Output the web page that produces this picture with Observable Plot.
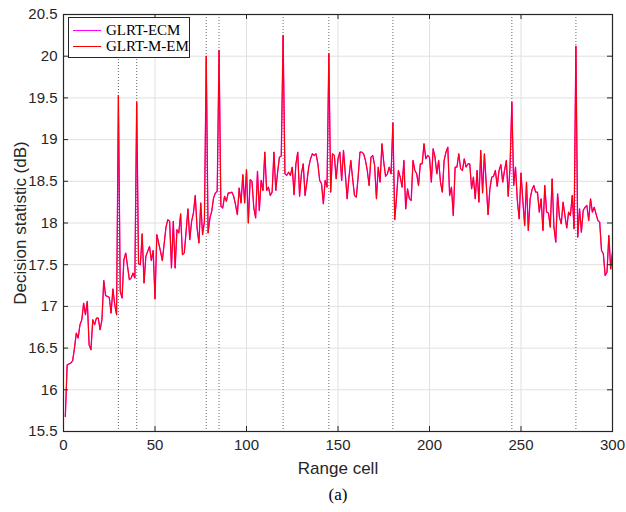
<!DOCTYPE html>
<html>
<head>
<meta charset="utf-8">
<script src="https://cdn.jsdelivr.net/npm/d3@7"></script>
<script src="https://cdn.jsdelivr.net/npm/@observablehq/plot@0.6"></script>
<style>
  html, body { margin: 0; padding: 0; background: #fff; }
  #wrap { position: relative; width: 626px; height: 512px; }
  #legend { position: absolute; left: 68px; top: 17px; width: 122px; height: 41px; border: 1px solid #262626; background: #fff;
            font-family: "Liberation Serif", "Times New Roman", serif; font-size: 15px; color: #000; box-sizing: border-box; }
  .row { position: absolute; left: 0; height: 16px; display: flex; align-items: center; white-space: nowrap; }
  .sw { width: 28px; margin-left: 4px; margin-right: 5px; border-top: 1px solid; }
</style>
</head>
<body>
<div id="wrap"></div>
<script>
// ---- data ----
const seriesNames = ["GLRT-ECM", "GLRT-M-EM"];
const seriesColors = ["#ff00ff", "#ff0000"];
const targetCells = [30, 40, 78, 85, 120, 145, 180, 245, 280];
const xTicks = [0, 50, 100, 150, 200, 250, 300];
const yTicks = [15.5, 16, 16.5, 17, 17.5, 18, 18.5, 19, 19.5, 20, 20.5];
const rangeCells = d3.range(1, 301);
const glrtMEM = [
15.68,16.30,16.31,16.32,16.35,16.50,16.68,16.62,16.78,16.84,
17.04,16.90,17.06,16.54,16.48,16.84,16.78,16.86,16.86,16.72,
16.84,17.31,17.13,17.12,17.11,16.92,17.21,17.02,16.90,19.53,
17.18,17.10,17.56,17.64,17.48,17.32,17.34,17.40,17.34,19.45,
17.51,17.50,17.87,17.28,17.60,17.66,17.72,17.55,17.67,17.09,
17.86,17.76,17.66,17.55,17.75,17.95,18.04,18.02,17.46,18.02,
17.46,17.92,17.88,18.11,17.62,17.64,17.90,18.17,17.80,18.02,
18.12,18.33,17.94,17.76,18.24,17.86,18.02,20.00,17.88,18.06,
18.14,18.30,18.36,18.38,20.07,18.20,18.18,18.32,18.26,18.36,
18.36,18.37,18.32,18.22,18.10,18.42,18.24,18.58,18.24,18.64,
18.00,18.52,18.50,18.18,18.06,18.62,18.15,18.51,18.39,18.85,
18.39,18.43,18.33,18.37,18.85,18.39,18.61,18.79,18.80,20.25,
18.59,18.57,18.61,18.57,18.67,18.34,18.71,18.85,18.32,18.59,
18.71,18.33,18.49,18.67,18.77,18.83,18.81,18.83,18.71,18.51,
18.47,18.23,18.51,18.43,20.03,18.37,18.83,18.81,18.53,18.77,
18.85,18.51,18.87,18.59,18.29,18.55,18.75,18.53,18.33,18.31,
18.55,18.85,18.85,18.83,18.75,18.63,18.45,18.79,18.81,18.69,
18.29,18.67,18.49,18.95,18.73,18.56,18.59,18.67,18.59,19.20,
18.04,18.31,18.63,18.55,18.43,18.75,18.17,18.41,18.29,18.27,
18.75,18.63,18.59,18.45,18.71,18.71,18.95,18.77,18.81,18.79,
18.49,18.89,18.79,18.59,18.75,18.49,18.37,18.75,18.85,18.91,
18.33,18.43,18.09,18.67,18.67,18.83,18.65,18.63,18.77,18.67,
18.71,18.71,18.41,18.55,18.29,18.63,18.25,18.87,18.36,18.83,
18.47,18.10,18.41,18.55,18.56,18.63,18.44,18.63,18.70,18.49,
18.63,18.75,18.32,18.67,19.45,18.45,18.67,18.27,18.05,18.60,
18.27,17.97,18.49,17.91,18.29,18.40,18.45,18.37,18.37,18.13,
18.29,17.91,18.45,18.13,18.12,17.95,18.53,17.95,17.77,18.35,
18.07,17.99,18.25,18.09,17.94,18.13,18.09,18.33,17.93,20.12,
17.83,18.17,17.89,18.15,18.19,18.21,18.03,18.29,18.13,18.19,
18.11,18.03,18.01,17.67,17.63,17.37,17.41,17.85,17.45,17.65
];
const glrtECM = [
15.68,16.30,16.31,16.32,16.35,16.50,16.68,16.62,16.78,16.84,
17.04,16.90,17.06,16.54,16.48,16.84,16.78,16.86,16.86,16.72,
16.84,17.31,17.13,17.12,17.11,16.92,17.21,17.02,16.90,19.53,
17.18,17.10,17.56,17.64,17.48,17.32,17.34,17.40,17.34,19.45,
17.51,17.50,17.87,17.28,17.60,17.66,17.72,17.55,17.67,17.09,
17.86,17.76,17.66,17.55,17.75,17.95,18.04,18.02,17.46,18.02,
17.46,17.92,17.88,18.11,17.62,17.64,17.90,18.17,17.80,18.02,
18.12,18.33,17.94,17.76,18.24,17.86,18.02,20.00,17.88,18.06,
18.14,18.30,18.36,18.38,20.07,18.20,18.18,18.32,18.26,18.36,
18.36,18.37,18.32,18.22,18.10,18.42,18.24,18.58,18.24,18.64,
18.00,18.52,18.50,18.18,18.06,18.62,18.15,18.51,18.39,18.85,
18.39,18.43,18.33,18.37,18.85,18.39,18.61,18.79,18.80,20.25,
18.59,18.57,18.61,18.57,18.67,18.34,18.71,18.85,18.32,18.59,
18.71,18.33,18.49,18.67,18.77,18.83,18.81,18.83,18.71,18.51,
18.47,18.23,18.51,18.43,20.03,18.37,18.83,18.81,18.53,18.77,
18.85,18.51,18.87,18.59,18.29,18.55,18.75,18.53,18.33,18.31,
18.55,18.85,18.85,18.83,18.75,18.63,18.45,18.79,18.81,18.69,
18.29,18.67,18.49,18.95,18.73,18.56,18.59,18.67,18.59,19.20,
18.04,18.31,18.63,18.55,18.43,18.75,18.17,18.41,18.29,18.27,
18.75,18.63,18.59,18.45,18.71,18.71,18.95,18.77,18.81,18.79,
18.49,18.89,18.79,18.59,18.75,18.49,18.37,18.75,18.85,18.91,
18.33,18.43,18.09,18.67,18.67,18.83,18.65,18.63,18.77,18.67,
18.71,18.71,18.41,18.55,18.29,18.63,18.25,18.87,18.36,18.83,
18.47,18.10,18.41,18.55,18.56,18.63,18.44,18.63,18.70,18.49,
18.63,18.75,18.32,18.67,19.45,18.45,18.67,18.27,18.05,18.60,
18.27,17.97,18.49,17.91,18.29,18.40,18.45,18.37,18.37,18.13,
18.29,17.91,18.45,18.13,18.12,17.95,18.53,17.95,17.77,18.35,
18.07,17.99,18.25,18.09,17.94,18.13,18.09,18.33,17.93,20.12,
17.83,18.17,17.89,18.15,18.19,18.21,18.03,18.29,18.13,18.19,
18.11,18.03,18.01,17.67,17.63,17.37,17.41,17.85,17.45,17.65
];

// ---- chart ----
const W = 626, H = 512, mL = 63, mR = 14, mT = 14, mB = 81;
const plotW = W - mL - mR, plotH = H - mT - mB;
const tickLen = 5;
const axisColor = "#262626";
const ecmRows = rangeCells.map((c, i) => ({cell: c, v: glrtECM[i]}));
const memRows = rangeCells.map((c, i) => ({cell: c, v: glrtMEM[i]}));
const innerX = xTicks.slice(1, -1), innerY = yTicks.slice(1, -1);
const sans = "'Liberation Sans', Arial, Helvetica, sans-serif";

const chart = Plot.plot({
  width: W, height: H,
  marginLeft: mL, marginRight: mR, marginTop: mT, marginBottom: mB,
  style: {fontFamily: sans, fontSize: "15px", background: "#fff", color: axisColor, overflow: "visible"},
  x: {domain: [0, 300], ticks: xTicks},
  y: {domain: [15.5, 20.5], ticks: yTicks},
  marks: [
    Plot.gridX(xTicks, {stroke: "#e0e0e0", strokeOpacity: 1, strokeWidth: 1}),
    Plot.gridY(yTicks, {stroke: "#e0e0e0", strokeOpacity: 1, strokeWidth: 1}),
    Plot.ruleX(targetCells, {x: d => d, stroke: "#666", strokeWidth: 1, strokeDasharray: "1,2"}),
    Plot.lineY(ecmRows, {x: "cell", y: "v", stroke: seriesColors[0], strokeWidth: 1.3}),
    Plot.lineY(memRows, {x: "cell", y: "v", stroke: seriesColors[1], strokeWidth: 1}),
    Plot.tickX(innerX, {x: d => d, insetTop: plotH - tickLen, stroke: axisColor}),
    Plot.tickX(innerX, {x: d => d, insetBottom: plotH - tickLen, stroke: axisColor}),
    Plot.tickY(innerY, {y: d => d, insetRight: plotW - tickLen, stroke: axisColor}),
    Plot.tickY(innerY, {y: d => d, insetLeft: plotW - tickLen, stroke: axisColor}),
    Plot.frame({stroke: axisColor, strokeWidth: 1.2}),
    Plot.axisX(xTicks, {tickSize: 0, tickPadding: 8, tickFormat: d => String(d), label: "Range cell", labelAnchor: "center", labelOffset: 42, labelArrow: "none", fontSize: 15}),
    Plot.axisY(yTicks, {tickSize: 0, tickPadding: 6, tickFormat: d => String(d), label: "Decision statistic (dB)", labelAnchor: "center", labelOffset: 50, labelArrow: "none", fontSize: 15}),
    Plot.text(["(a)"], {text: d => d, frameAnchor: "bottom", dy: 68, fontFamily: "'Liberation Serif', serif", fontSize: 17, fill: "#000"})
  ]
});
const wrap = document.getElementById("wrap");
wrap.appendChild(chart);

// enlarge axis titles
chart.querySelectorAll("[aria-label='x-axis label'] text, [aria-label='y-axis label'] text").forEach(t => t.setAttribute("font-size", "17"));

// legend
const legend = document.createElement("div");
legend.id = "legend";
seriesNames.forEach((name, i) => {
  const row = document.createElement("div");
  row.className = "row";
  row.style.top = (4 + i * 16) + "px";
  const sw = document.createElement("span");
  sw.className = "sw";
  sw.style.borderTopColor = seriesColors[i];
  const t = document.createElement("span");
  t.textContent = name;
  row.appendChild(sw); row.appendChild(t);
  legend.appendChild(row);
});
wrap.appendChild(legend);
</script>
</body>
</html>
